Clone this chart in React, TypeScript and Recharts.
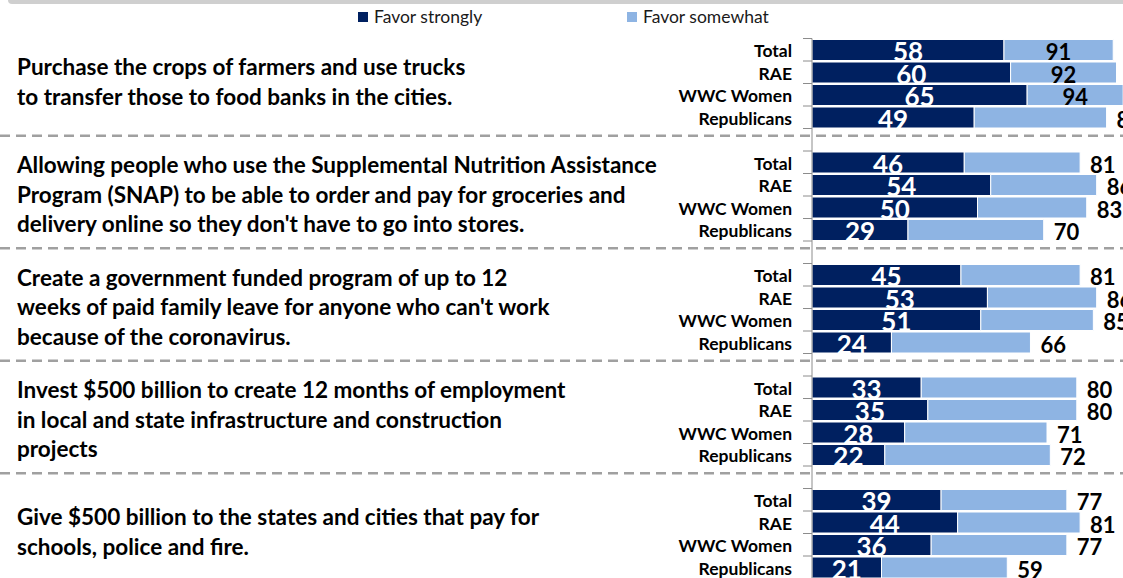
import { BarChart, Bar, XAxis, YAxis, LabelList, ReferenceLine, Legend } from 'recharts'

const questions = [
  ['Purchase the crops of farmers and use trucks', 'to transfer those to food banks in the cities.'],
  [
    'Allowing people who use the Supplemental Nutrition Assistance',
    'Program (SNAP) to be able to order and pay for groceries and',
    "delivery online so they don't have to go into stores.",
  ],
  [
    'Create a government funded program of up to 12',
    "weeks of paid family leave for anyone who can't work",
    'because of the coronavirus.',
  ],
  [
    'Invest $500 billion to create 12 months of employment',
    'in local and state infrastructure and construction',
    'projects',
  ],
  ['Give $500 billion to the states and cities that pay for', 'schools, police and fire.'],
]
const segments = ['Total', 'RAE', 'WWC Women', 'Republicans']
const favorStrongly = [
  [58, 60, 65, 49],
  [46, 54, 50, 29],
  [45, 53, 51, 24],
  [33, 35, 28, 22],
  [39, 44, 36, 21],
]
// total favor (strongly + somewhat), the number printed at the end of each bar
const favorTotal = [
  [91, 92, 94, 89],
  [81, 86, 83, 70],
  [81, 86, 85, 66],
  [80, 80, 71, 72],
  [77, 81, 77, 59],
]
const seriesNames = ['Favor strongly', 'Favor somewhat']

const DARK = '#002060'
const LIGHT = '#8EB4E3'
const FONT = 'Lato, "Open Sans", sans-serif'
const ROW_H = 22.5

type Row = {
  key: string
  label: string
  group: number
  pos: number
  strongly?: number
  somewhat?: number
  total?: number
}

const rows: Row[] = []
questions.forEach((_, g) => {
  segments.forEach((s, i) => {
    rows.push({
      key: `${g}-${s}`,
      label: s,
      group: g,
      pos: i,
      strongly: favorStrongly[g][i],
      somewhat: favorTotal[g][i] - favorStrongly[g][i],
      total: favorTotal[g][i],
    })
  })
  if (g < questions.length - 1) rows.push({ key: `${g}-gap`, label: '', group: g, pos: -1 })
})
const byKey = new Map(rows.map(r => [r.key, r]))

function RowTick(props: any) {
  const { x, y, payload } = props
  const row = byKey.get(payload.value)
  if (!row) return null
  const lines = row.pos === 0 ? questions[row.group] : []
  const mid = y + 1.5 * ROW_H - 2
  return (
    <g>
      <line x1={x - 9} x2={x} y1={y - ROW_H / 2} y2={y - ROW_H / 2} stroke="#8c8c8c" />
      {row.label && (
        <text x={x - 20} y={y} dy={1} textAnchor="end" dominantBaseline="central"
          fontFamily={FONT} fontWeight={700} fontSize={17.5} fill="#000">
          {row.label}
        </text>
      )}
      {lines.map((t, i) => (
        <text key={i} x={17} y={mid + (i - (lines.length - 1) / 2) * 29.5} dominantBaseline="central"
          fontFamily={FONT} fontWeight={700} fontSize={22.5} fill="#000">
          {t}
        </text>
      ))}
    </g>
  )
}

function StronglyLabel(props: any) {
  const { x, y, width, height, value } = props
  if (value == null) return null
  return (
    <text x={x + width / 2} y={y + height / 2} dy={1} textAnchor="middle" dominantBaseline="central"
      fontFamily={FONT} fontWeight={700} fontSize={26} fill="#fff">
      {value}
    </text>
  )
}

function TotalLabel(props: any) {
  const { x, y, width, height, value } = props
  if (value == null) return null
  const inside = value >= 90
  return (
    <text x={inside ? x + width / 2 : x + width + 10} y={y + height / 2} dy={1.5}
      textAnchor={inside ? 'middle' : 'start'} dominantBaseline="central"
      fontFamily={FONT} fontWeight={700} fontSize={22} fill="#000">
      {value}
    </text>
  )
}

const LEGEND_X = [358, 627]

function LegendContent(props: any) {
  const items = [...(props.payload || [])].sort(
    (a: any, b: any) => seriesNames.indexOf(a.value) - seriesNames.indexOf(b.value)
  )
  return (
    <div style={{ position: 'relative', width: 1123, height: 22, fontFamily: FONT, fontSize: 17.5 }}>
      {items.map((it: any, i: number) => (
        <div key={it.value} style={{ position: 'absolute', left: LEGEND_X[i], top: 0, display: 'flex', alignItems: 'center', gap: 6 }}>
          <span style={{ width: 10, height: 10, background: it.color, display: 'inline-block' }} />
          <span style={{ color: '#1a1a1a' }}>{it.value}</span>
        </div>
      ))}
    </div>
  )
}

const gapKeys = rows.filter(r => r.pos === -1).map(r => r.key)

export default function App() {
  return (
    <div style={{ position: 'absolute', left: 0, top: 0, width: 1123, height: 578, overflow: 'hidden', background: '#fff' }}>
      <div style={{ position: 'absolute', left: 8, top: 0, width: 1115, height: 4, background: '#cfcfcf', borderBottomLeftRadius: 4 }} />
      <BarChart width={1160} height={600} data={rows} layout="vertical"
        margin={{ top: 38.5, right: 17, bottom: 21.5, left: 0 }}>
        <XAxis type="number" domain={[0, 100]} hide />
        <YAxis type="category" dataKey="key" width={812} interval={0} tickLine={false}
          tickSize={0} tickMargin={0} axisLine={{ stroke: '#8c8c8c' }} tick={<RowTick />} />
        <Legend layout="vertical" align="center" verticalAlign="middle"
          wrapperStyle={{ top: 6, left: 0 }} content={<LegendContent />} />
        {gapKeys.map(k => (
          <ReferenceLine key={k} y={k} ifOverflow="visible"
            shape={(p: any) => (
              <line x1={0} x2={1123} y1={p.y1 - 4} y2={p.y1 - 4} stroke="#a0a0a0" strokeWidth={2.5} strokeDasharray="10 6" />
            )} />
        ))}
        <Bar dataKey="strongly" name={seriesNames[0]} stackId="a" fill={DARK} stroke="#fff" strokeWidth={1}
          barSize={21} isAnimationActive={false}>
          <LabelList dataKey="strongly" content={<StronglyLabel />} />
        </Bar>
        <Bar dataKey="somewhat" name={seriesNames[1]} stackId="a" fill={LIGHT} stroke="#fff" strokeWidth={1}
          barSize={21} isAnimationActive={false}>
          <LabelList dataKey="total" content={<TotalLabel />} />
        </Bar>
      </BarChart>
    </div>
  )
}
